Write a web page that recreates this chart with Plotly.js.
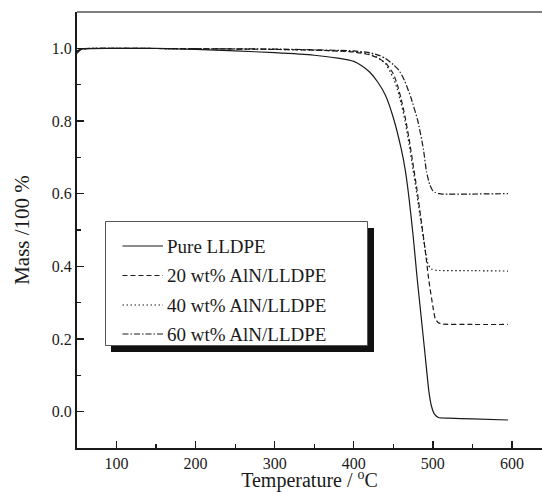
<!DOCTYPE html>
<html>
<head>
<meta charset="utf-8">
<script src="https://cdn.plot.ly/plotly-3.0.1.min.js"></script>
<style>
  html, body { margin: 0; padding: 0; background: #fff; }
  #chart { width: 542px; height: 492px; }
</style>
</head>
<body>
<div id="chart"></div>
<script>
// TGA curves: residual mass fraction vs temperature
const tempPure = [50, 55, 70, 100, 150, 200, 250, 300, 350, 380, 400, 410, 420, 430, 440, 450, 460, 465, 470, 475, 480, 485, 490, 495, 498, 502, 507, 520, 550, 595];
const massPure = [0.986, 0.997, 0.999, 1.000, 1.000, 0.997, 0.993, 0.988, 0.981, 0.973, 0.964, 0.952, 0.935, 0.908, 0.871, 0.809, 0.723, 0.666, 0.585, 0.485, 0.370, 0.265, 0.160, 0.055, 0.017, -0.007, -0.016, -0.018, -0.020, -0.023];

const temp20 = [50, 55, 70, 100, 200, 300, 350, 400, 420, 430, 440, 450, 455, 460, 465, 470, 475, 480, 485, 490, 495, 500, 503, 507, 512, 550, 595];
const mass20 = [0.992, 0.998, 1.000, 1.000, 0.999, 0.997, 0.995, 0.990, 0.982, 0.974, 0.960, 0.930, 0.900, 0.860, 0.810, 0.750, 0.680, 0.610, 0.530, 0.450, 0.360, 0.290, 0.256, 0.245, 0.241, 0.240, 0.240];

const temp40 = [50, 55, 70, 100, 200, 300, 350, 400, 420, 430, 440, 450, 455, 460, 465, 470, 475, 480, 485, 490, 494, 498, 505, 550, 595];
const mass40 = [0.992, 0.998, 1.000, 1.000, 0.999, 0.997, 0.995, 0.991, 0.984, 0.975, 0.958, 0.918, 0.888, 0.848, 0.798, 0.735, 0.665, 0.595, 0.520, 0.450, 0.405, 0.393, 0.389, 0.388, 0.387];

const temp60 = [50, 55, 70, 100, 200, 300, 350, 400, 420, 433, 440, 450, 457, 464, 472, 481, 488, 492, 496, 500, 503, 508, 512, 550, 595];
const mass60 = [0.992, 0.998, 1.000, 1.000, 0.999, 0.998, 0.996, 0.993, 0.988, 0.980, 0.972, 0.955, 0.940, 0.912, 0.866, 0.800, 0.723, 0.660, 0.625, 0.608, 0.603, 0.600, 0.599, 0.599, 0.600];

const seriesNames = ['Pure LLDPE', '20 wt% AlN/LLDPE', '40 wt% AlN/LLDPE', '60 wt% AlN/LLDPE'];
const seriesX = [tempPure, temp20, temp40, temp60];
const seriesY = [massPure, mass20, mass40, mass60];
const dashes = ['solid', '5px,3px', '1.5px,2.5px', '6px,2px,1.5px,2px'];

const FONT = '"Liberation Serif", "Times New Roman", Times, serif';
const INK = '#1a1a1a';

const traces = seriesNames.map((name, i) => ({
  type: 'scatter',
  mode: 'lines',
  name: name,
  x: seriesX[i],
  y: seriesY[i],
  line: { color: INK, width: 1.2, dash: dashes[i], shape: 'spline', smoothing: 0.5 },
  showlegend: false
}));

// plot area in pixels, used to place the boxed key
const M = { l: 77, r: 0, t: 12, b: 44 };
const W = 542, H = 492;
const pw = W - M.l - M.r, ph = H - M.t - M.b;
const px = v => (v - M.l) / pw;
const py = v => (H - M.b - v) / ph;

const shapes = [
  // frame line along the top edge
  { type: 'line', xref: 'paper', yref: 'paper', x0: 0, x1: 1, y0: 1, y1: 1,
    line: { color: '#555', width: 1.5 } },
  // key shadow
  { type: 'rect', xref: 'paper', yref: 'paper',
    x0: px(111), x1: px(374), y0: py(228), y1: py(352),
    fillcolor: '#111', line: { width: 0 } },
  // key box
  { type: 'rect', xref: 'paper', yref: 'paper',
    x0: px(105.5), x1: px(367.5), y0: py(221.5), y1: py(345.5),
    fillcolor: '#fff', line: { color: '#555', width: 1 } }
];

const rowY = [246, 275.5, 305, 334];
const annotations = [];
seriesNames.forEach((name, i) => {
  shapes.push({ type: 'line', xref: 'paper', yref: 'paper',
    x0: px(122.5), x1: px(163), y0: py(rowY[i]), y1: py(rowY[i]),
    line: { color: INK, width: 1.1, dash: dashes[i] } });
  annotations.push({ xref: 'paper', yref: 'paper', x: px(165), y: py(rowY[i]),
    xanchor: 'left', yanchor: 'middle', showarrow: false, text: name,
    font: { family: FONT, size: 19, color: INK } });
});

const layout = {
  width: W, height: H,
  margin: M,
  paper_bgcolor: '#fff', plot_bgcolor: '#fff',
  font: { family: FONT, size: 16, color: INK },
  showlegend: false,
  xaxis: {
    range: [50, 638],
    tick0: 0, dtick: 100,
    ticks: 'inside', ticklen: 7, tickwidth: 1.3, tickcolor: INK,
    minor: { dtick: 50, ticks: 'inside', ticklen: 4, tickwidth: 1.3, tickcolor: INK },
    showline: true, linewidth: 2, linecolor: INK,
    showgrid: false, zeroline: false,
    tickfont: { family: FONT, size: 16, color: INK },
    automargin: false,
    title: { text: 'Temperature / <sup>o</sup>C', font: { family: FONT, size: 20, color: INK }, standoff: 12 }
  },
  yaxis: {
    range: [-0.1, 1.1],
    tick0: 0, dtick: 0.2, tickformat: '.1f',
    ticks: 'inside', ticklen: 7, tickwidth: 1.3, tickcolor: INK,
    minor: { dtick: 0.1, ticks: 'inside', ticklen: 4, tickwidth: 1.3, tickcolor: INK },
    showline: true, linewidth: 2, linecolor: INK,
    showgrid: false, zeroline: false,
    tickfont: { family: FONT, size: 16, color: INK },
    automargin: false,
    title: { text: 'Mass /100 %', font: { family: FONT, size: 21, color: INK }, standoff: 16 }
  },
  shapes: shapes,
  annotations: annotations
};

Plotly.newPlot('chart', traces, layout, { staticPlot: true });
</script>
</body>
</html>
